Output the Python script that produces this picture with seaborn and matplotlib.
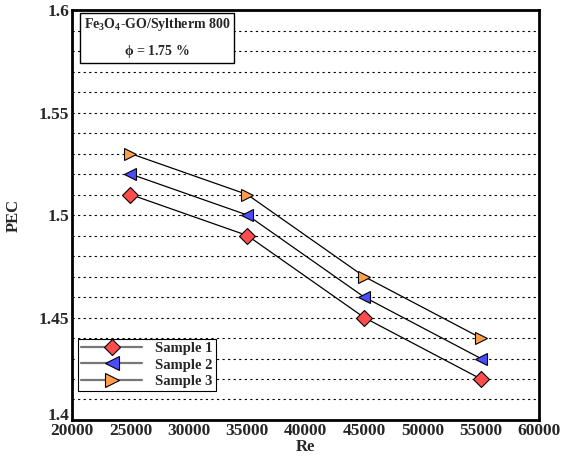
import numpy as np
import pandas as pd
import seaborn as sns
import matplotlib.pyplot as plt
import matplotlib.transforms as mtransforms
from matplotlib.ticker import MultipleLocator

re_values = [25000, 35000, 45000, 55000]
sample1 = [1.51, 1.49, 1.45, 1.42]
sample2 = [1.52, 1.50, 1.46, 1.43]
sample3 = [1.53, 1.51, 1.47, 1.44]
sample_names = ['Sample 1', 'Sample 2', 'Sample 3']

df = pd.DataFrame({
    'Re': re_values * 3,
    'PEC': sample1 + sample2 + sample3,
    'Sample': [n for n in sample_names for _ in re_values],
})

sns.set_style('white')
plt.rcParams['font.family'] = ['Liberation Serif', 'DejaVu Serif']
plt.rcParams['font.weight'] = 'bold'
plt.rcParams['mathtext.fontset'] = 'custom'
plt.rcParams['mathtext.rm'] = 'Liberation Serif:bold'
plt.rcParams['mathtext.it'] = 'Liberation Serif:bold'
plt.rcParams['mathtext.bf'] = 'Liberation Serif:bold'

fig, ax = plt.subplots(figsize=(5.63, 4.59), dpi=100)
fig.subplots_adjust(left=0.128, right=0.958, top=0.978, bottom=0.085)

# dotted grid lines at every 0.01
for y in np.arange(1.41, 1.595, 0.01):
    ax.axhline(y, color='black', ls=(0, (2, 3)), lw=0.8, zorder=0)

colors = ['#ff4c4c', '#4c4cff', '#ff9f4c']
markers = ['D', '<', '>']
sizes = [8, 9, 9]
for name, c, m, s in zip(sample_names, colors, markers, sizes):
    sub = df[df['Sample'] == name]
    sns.lineplot(data=sub, x='Re', y='PEC', ax=ax, color='black', lw=0.9,
                 marker=m, markersize=s, markerfacecolor=c, markeredgecolor='black',
                 markeredgewidth=0.8, legend=False, zorder=3)

ax.set_xlim(20000, 60000)
ax.set_ylim(1.4, 1.6)
ax.xaxis.set_major_locator(MultipleLocator(5000))
ax.xaxis.set_minor_locator(MultipleLocator(1000))
ax.yaxis.set_minor_locator(MultipleLocator(0.01))
ax.set_yticks([1.4, 1.45, 1.5, 1.55, 1.6])
ax.set_yticklabels(['1.4', '1.45', '1.5', '1.55', '1.6'])
ax.tick_params(which='major', direction='in', length=7, width=1.5, labelsize=12.5, pad=2)
ax.tick_params(which='minor', direction='in', length=4, width=1.0)
for lab in ax.get_xticklabels() + ax.get_yticklabels():
    lab.set_fontweight('bold')
# lift the bottom y label a little so it sits above the first x label
ylab0 = ax.get_yticklabels()[0]
ylab0.set_transform(ylab0.get_transform() +
                    mtransforms.ScaledTranslation(0, 4 / 72, fig.dpi_scale_trans))
for sp in ax.spines.values():
    sp.set_linewidth(2)
    sp.set_color('black')

ax.set_xlabel('Re', fontsize=12, fontweight='bold', labelpad=0)
ax.set_ylabel('PEC', fontsize=12, fontweight='bold', labelpad=12)

ax.text(0.025, 0.985, 'Fe$_3$O$_4$-GO/Syltherm 800\n\n$\\phi$ = 1.75 %', transform=ax.transAxes,
        ha='left', va='top', fontsize=10, fontweight='bold', linespacing=0.85, multialignment='center',
        bbox=dict(boxstyle='square,pad=0.25', facecolor='white', edgecolor='black', lw=1))

handles = [plt.Line2D([], [], color='#777777', lw=1.6, marker=m, markersize=s + 0.5,
                      markerfacecolor=c, markeredgecolor='black', markeredgewidth=0.8)
           for c, m, s in zip(colors, markers, sizes)]
leg = ax.legend(handles, sample_names, loc='lower left', bbox_to_anchor=(0.013, 0.07),
                frameon=True, fancybox=False, edgecolor='black', framealpha=1,
                prop={'family': 'Liberation Serif', 'weight': 'bold', 'size': 10.5},
                handlelength=4.2, handletextpad=0.9, labelspacing=0.25, borderpad=0.2,
                borderaxespad=0, markerfirst=True)
leg.get_frame().set_linewidth(0.8)
leg.get_frame().set_boxstyle('square', pad=0)
leg.set_zorder(5)

fig.savefig('out.png', dpi=100)
